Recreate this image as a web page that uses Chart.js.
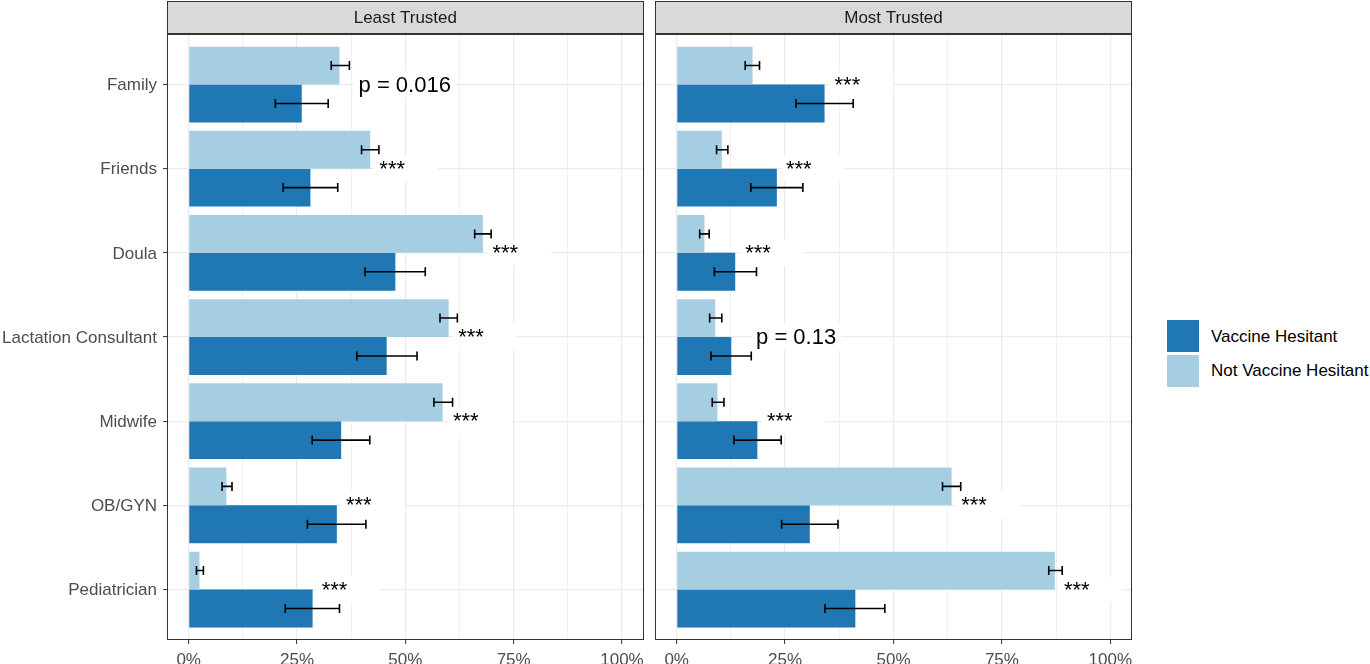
<!DOCTYPE html>
<html>
<head>
<meta charset="utf-8">
<script src="https://cdn.jsdelivr.net/npm/chart.js@4"></script>
<style>
  html, body { margin:0; padding:0; background:#fff; width:1370px; height:664px; overflow:hidden; }
  canvas { position:absolute; top:0; }
  #c1 { left:0; }
  #c2 { left:650px; }
  .key { position:absolute; left:1167px; width:32px; height:32px; }
  .ltxt { position:absolute; left:1211px; font-family:'Liberation Sans', Arial, sans-serif; font-size:17px; color:#000; line-height:20px; white-space:nowrap; }
</style>
</head>
<body>
<canvas id="c1" width="650" height="664"></canvas>
<canvas id="c2" width="490" height="664"></canvas>
<div class="key" style="top:320px;background:#1f78b4;"></div>
<div class="key" style="top:355px;background:#a6cee3;"></div>
<div class="ltxt" style="top:327px;">Vaccine Hesitant</div>
<div class="ltxt" style="top:361px;">Not Vaccine Hesitant</div>
<script>
// ---------- data ----------
const categories = ['Family', 'Friends', 'Doula', 'Lactation Consultant', 'Midwife', 'OB/GYN', 'Pediatrician'];
const panelTitles = ['Least Trusted', 'Most Trusted'];
const seriesNames = ['Not Vaccine Hesitant', 'Vaccine Hesitant'];
const xTickValues = [0, 25, 50, 75, 100];

// Least Trusted (percent)
const leastNot   = [34.8, 41.9, 67.9, 60.0, 58.6, 8.7, 2.5];
const leastNotLo = [32.9, 39.9, 66.0, 58.0, 56.6, 7.7, 1.8];
const leastNotHi = [37.1, 43.9, 69.8, 62.0, 60.9, 10.0, 3.4];
const leastVH    = [26.1, 28.1, 47.7, 45.7, 35.2, 34.2, 28.6];
const leastVHLo  = [20.0, 21.8, 40.7, 38.8, 28.5, 27.4, 22.3];
const leastVHHi  = [32.2, 34.4, 54.6, 52.7, 41.8, 40.9, 34.8];
const leastLabels  = ['p = 0.016', '***', '***', '***', '***', '***', '***'];
const leastLabelAt = [39.2, 44.0, 70.1, 62.2, 61.0, 36.3, 30.7];

// Most Trusted (percent)
const mostNot   = [17.5, 10.4, 6.4, 8.9, 9.4, 63.4, 87.2];
const mostNotLo = [15.8, 9.2, 5.3, 7.6, 8.2, 61.3, 85.8];
const mostNotHi = [19.1, 11.8, 7.5, 10.4, 10.9, 65.5, 88.9];
const mostVH    = [34.1, 23.1, 13.5, 12.6, 18.6, 30.7, 41.2];
const mostVHLo  = [27.5, 17.1, 8.7, 7.9, 13.2, 24.2, 34.2];
const mostVHHi  = [40.7, 29.1, 18.4, 17.2, 24.1, 37.2, 48.0];
const mostLabels  = ['***', '***', '***', 'p = 0.13', '***', '***', '***'];
const mostLabelAt = [36.4, 25.2, 15.8, 18.3, 20.8, 65.6, 89.3];

// ---------- styling ----------
const FONT = "'Liberation Sans', Arial, sans-serif";
const LIGHT = '#a6cee3', DARK = '#1f78b4';
const GRID = '#ebebeb', FRAME = '#333333', AXTXT = '#4d4d4d';

function pts(vals) { return vals.map((v, i) => ({ x: v, y: i })); }

const panelPlugin = {
  id: 'panel',
  afterDatasetsDraw(chart, args, opts) {
    const ctx = chart.ctx, xs = chart.scales.x, ys = chart.scales.y;
    // error bars
    ctx.save();
    ctx.strokeStyle = '#000';
    ctx.lineWidth = 1.6;
    chart.data.datasets.forEach((ds, di) => {
      const meta = chart.getDatasetMeta(di);
      meta.data.forEach((bar, i) => {
        const lo = xs.getPixelForValue(ds.lo[i]);
        const hi = xs.getPixelForValue(ds.hi[i]);
        const y = bar.y;
        const h = 4.5;
        ctx.beginPath();
        ctx.moveTo(lo, y); ctx.lineTo(hi, y);
        ctx.moveTo(lo, y - h); ctx.lineTo(lo, y + h);
        ctx.moveTo(hi, y - h); ctx.lineTo(hi, y + h);
        ctx.stroke();
      });
    });
    ctx.restore();
    // significance labels
    ctx.save();
    ctx.font = '22px ' + FONT;
    ctx.textBaseline = 'middle';
    ctx.textAlign = 'left';
    opts.labels.forEach((lab, i) => {
      const x = xs.getPixelForValue(opts.labelAt[i]);
      const y = ys.getPixelForValue(i);
      const w = ctx.measureText(lab).width + (lab === '***' ? 28 : 0);
      ctx.fillStyle = '#fff';
      ctx.fillRect(x - 5, y - 13, w + 10, 26);
      ctx.fillStyle = '#000';
      ctx.fillText(lab, x, y + 1);
    });
    ctx.restore();
  },
  afterDraw(chart, args, opts) {
    const ctx = chart.ctx, a = chart.chartArea;
    ctx.save();
    // panel border
    ctx.strokeStyle = FRAME;
    ctx.lineWidth = 1;
    ctx.strokeRect(Math.round(a.left) + 0.5, Math.round(a.top) + 0.5, Math.round(a.right - a.left) - 1, Math.round(a.bottom - a.top) - 1);
    // strip
    ctx.fillStyle = '#d9d9d9';
    ctx.fillRect(Math.round(a.left) + 0.5, 1.5, Math.round(a.right - a.left) - 1, 32);
    ctx.strokeRect(Math.round(a.left) + 0.5, 1.5, Math.round(a.right - a.left) - 1, 32);
    ctx.fillStyle = '#1a1a1a';
    ctx.font = '17px ' + FONT;
    ctx.textAlign = 'center';
    ctx.textBaseline = 'middle';
    ctx.fillText(opts.title, (a.left + a.right) / 2, 18.5);
    ctx.restore();
  }
};

function makeChart(id, title, notV, notLo, notHi, vh, vhLo, vhHi, labels, labelAt, showY) {
  const xTicksAll = [0, 12.5, 25, 37.5, 50, 62.5, 75, 87.5, 100];
  return new Chart(document.getElementById(id), {
    type: 'bar',
    data: {
      datasets: [
        { label: seriesNames[0], data: pts(notV), lo: notLo, hi: notHi, backgroundColor: LIGHT, borderWidth: 0 },
        { label: seriesNames[1], data: pts(vh), lo: vhLo, hi: vhHi, backgroundColor: DARK, borderWidth: 0 }
      ]
    },
    options: {
      responsive: false,
      animation: false,
      indexAxis: 'y',
      categoryPercentage: 0.9,
      barPercentage: 1.0,
      layout: { padding: showY ? { top: 34, right: 6, left: 0, bottom: 0 } : { top: 34, right: 8, left: 5, bottom: 0 } },
      plugins: {
        legend: { display: false },
        tooltip: { enabled: false },
        panel: { title: title, labels: labels, labelAt: labelAt }
      },
      scales: {
        x: {
          type: 'linear', min: -5, max: 105, position: 'bottom', offset: false,
          afterBuildTicks(axis) { axis.ticks = xTicksAll.map(v => ({ value: v })); },
          afterFit(axis) { axis.height = 24; },
          ticks: {
            autoSkip: false, maxRotation: 0, padding: 6,
            color: AXTXT, font: { family: FONT, size: 17 },
            callback: (v) => xTickValues.includes(v) ? v + '%' : ''
          },
          grid: {
            color: GRID, offset: false,
            lineWidth: (c) => (c.tick && xTickValues.includes(c.tick.value)) ? 1.2 : 0.7,
            tickColor: (c) => (c.tick && xTickValues.includes(c.tick.value)) ? FRAME : 'rgba(0,0,0,0)',
            tickLength: 4, tickWidth: 1, drawTicks: true
          },
          border: { display: false }
        },
        y: {
          type: 'linear', min: -0.6, max: 6.6, reverse: true, position: 'left', offset: false,
          afterBuildTicks(axis) { axis.ticks = categories.map((c, i) => ({ value: i })); },
          afterFit(axis) { axis.width = showY ? 167 : 0; },
          ticks: {
            display: showY, autoSkip: false, padding: 6, labelOffset: 1,
            color: AXTXT, font: { family: FONT, size: 17 },
            callback: (v) => categories[v]
          },
          grid: { color: GRID, offset: false, lineWidth: 1.2, tickColor: FRAME, tickLength: 4, tickWidth: 1, drawTicks: showY },
          border: { display: false }
        }
      }
    },
    plugins: [panelPlugin]
  });
}

makeChart('c1', panelTitles[0], leastNot, leastNotLo, leastNotHi, leastVH, leastVHLo, leastVHHi, leastLabels, leastLabelAt, true);
makeChart('c2', panelTitles[1], mostNot, mostNotLo, mostNotHi, mostVH, mostVHLo, mostVHHi, mostLabels, mostLabelAt, false);
</script>
</body>
</html>
